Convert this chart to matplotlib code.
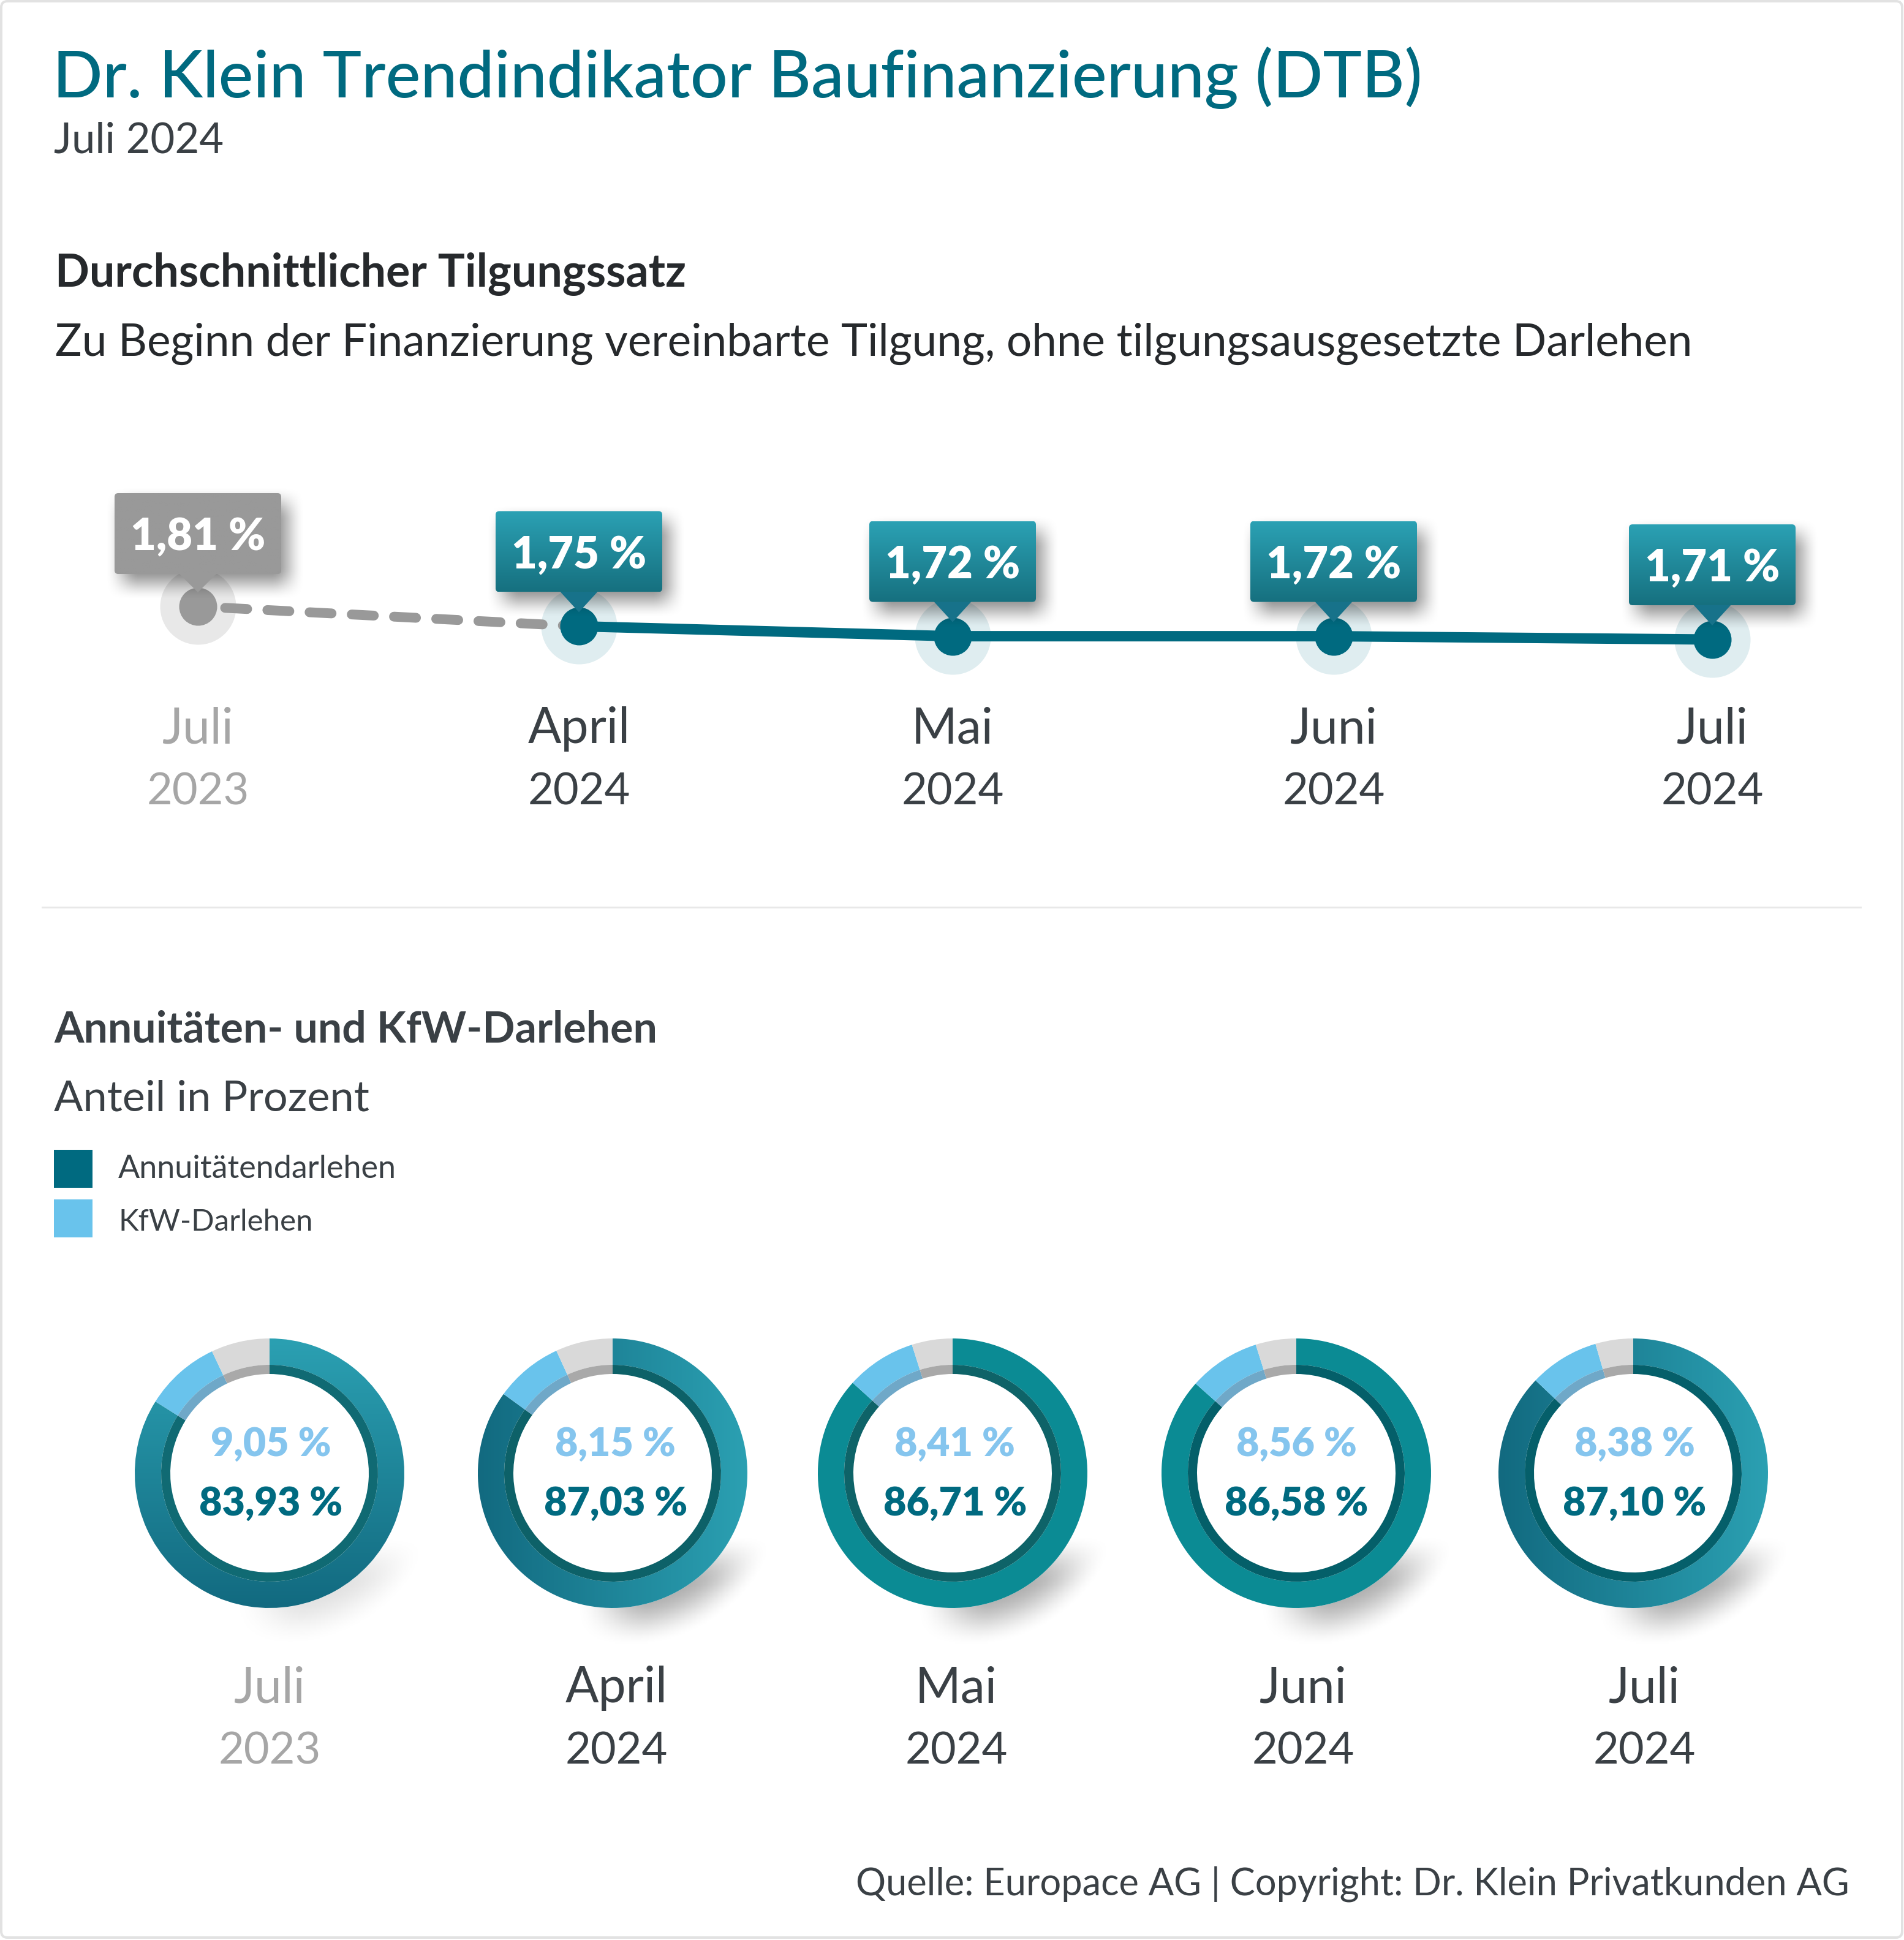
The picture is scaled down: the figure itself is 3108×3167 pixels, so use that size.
import numpy as np
import matplotlib
matplotlib.use('Agg')
import matplotlib.pyplot as plt
from matplotlib.patches import FancyBboxPatch, Polygon, Rectangle

# data
trend_months = ['Juli', 'April', 'Mai', 'Juni', 'Juli']
trend_years = ['2023', '2024', '2024', '2024', '2024']
tilgung = [1.81, 1.75, 1.72, 1.72, 1.71]
tilgung_labels = ['1,81 %', '1,75 %', '1,72 %', '1,72 %', '1,71 %']
annuitaet = [83.93, 85.0, 86.71, 86.58, 87.10]  # as drawn, the April ring is shorter than its label says
kfw = [9.05, 8.15, 8.41, 8.56, 8.38]
annuitaet_labels = ['83,93 %', '87,03 %', '86,71 %', '86,58 %', '87,10 %']
kfw_labels = ['9,05 %', '8,15 %', '8,41 %', '8,56 %', '8,38 %']
legend_labels = ['Annuitätendarlehen', 'KfW-Darlehen']

# layout, all in pixels of the final image
W, H = 3108, 3167
DPI = 100
FONT = 'Lato'
PT = 72 / DPI
line_x = [323, 945, 1555, 2177, 2795]
donut_x = [440, 1000, 1555, 2116, 2666]
donut_label_x = [440, 1006, 1561, 2127, 2684]
donut_text_x = [442, 1005, 1559, 2116, 2668]
donut_y = 2405
Y0, V0, PX_PER_PCT = 990, 1.81, 540  # 1,81 % sits at pixel row 990

# colours
TEAL = '#006a80'
LIGHT = '#2ba0b2'
DARK = '#126a80'
BLUE = '#69c3ec'
TEXT = '#3a4045'
GREY_TEXT = '#a6a6a6'

plt.rcParams['font.family'] = [FONT, 'DejaVu Sans']
plt.rcParams['lines.scale_dashes'] = False

fig = plt.figure(figsize=(W / DPI, H / DPI), dpi=DPI, facecolor='white')


def pixel_axes(zorder):
    a = fig.add_axes([0, 0, 1, 1], zorder=zorder)
    a.set_xlim(0, W)
    a.set_ylim(H, 0)
    a.axis('off')
    return a


def smooth(t):
    t = np.clip(t, 0, 1)
    return t * t * (3 - 2 * t)


def ramp(c1, c2, n=128):
    c1 = np.array(matplotlib.colors.to_rgb(c1))
    c2 = np.array(matplotlib.colors.to_rgb(c2))
    t = np.linspace(0, 1, n)[:, None]
    return c1 + (c2 - c1) * t


ax = pixel_axes(1)


def txt(x, y, s, size, color=TEXT, weight='normal', ha='left'):
    ax.text(x, y, s, fontsize=size, color=color, fontweight=weight, ha=ha, va='baseline')


# frame and divider
ax.add_patch(FancyBboxPatch((2, 2), W - 5, H - 6, boxstyle='round,pad=0,rounding_size=10',
                            fc='white', ec='#e2e2e2', lw=4 * PT))
ax.plot([69, 3037], [1481, 1481], color='#e8e8e8', lw=3 * PT)

# headings
txt(86, 159, 'Dr. Klein Trendindikator Baufinanzierung (DTB)', 77.2, TEAL, 'medium')
txt(88, 249, 'Juli 2024', 49.5)
txt(90, 468, 'Durchschnittlicher Tilgungssatz', 53, '#26292c', 'bold')
txt(90, 581, 'Zu Beginn der Finanzierung vereinbarte Tilgung, ohne tilgungsausgesetzte Darlehen', 52.5, '#26292c')
txt(88, 1702, 'Annuitäten- und KfW-Darlehen', 50.3, TEXT, 'bold')
txt(88, 1814, 'Anteil in Prozent', 50.5)

# legend
for top, col, label, base, size in zip([1877, 1958], [TEAL, BLUE], legend_labels, [1923, 2009], [37.5, 35.5]):
    ax.add_patch(Rectangle((88, top), 63, 62, fc=col, ec='none'))
    txt(193, base, label, size)

# month labels
for i in range(5):
    col = GREY_TEXT if i == 0 else TEXT
    txt(line_x[i], 1213, trend_months[i], 58, col, ha='center')
    txt(line_x[i], 1313, trend_years[i], 52, col, ha='center')
    txt(donut_label_x[i], 2779, trend_months[i], 58, col, ha='center')
    txt(donut_label_x[i], 2879, trend_years[i], 52, col, ha='center')

txt(3019, 3094, 'Quelle: Europace AG | Copyright: Dr. Klein Privatkunden AG', 44.2, TEXT, ha='right')

# line chart, on a value scale that shares the figure
ax_line = fig.add_axes([0, 0, 1, 1], zorder=2)
ax_line.set_xlim(0, W)
ax_line.set_ylim(V0 - (H - Y0) / PX_PER_PCT, V0 + Y0 / PX_PER_PCT)
ax_line.axis('off')

ax_line.scatter(line_x[:1], tilgung[:1], s=(124 * PT) ** 2, color='#e8e8e8', linewidths=0, zorder=1)
ax_line.scatter(line_x[1:], tilgung[1:], s=(124 * PT) ** 2, color='#dfedf0', linewidths=0, zorder=1)
ax_line.plot(line_x[:2], tilgung[:2], color='#999999', lw=16 * PT, dash_capstyle='round',
             linestyle=(17.6, (36 * PT, 33 * PT)), zorder=2)
ax_line.plot(line_x[1:], tilgung[1:], color=TEAL, lw=17 * PT, solid_capstyle='butt', zorder=2)
ax_line.scatter(line_x[:1], tilgung[:1], s=(62 * PT) ** 2, color='#999999', linewidths=0, zorder=3)
ax_line.scatter(line_x[1:], tilgung[1:], s=(62 * PT) ** 2, color=TEAL, linewidths=0, zorder=3)

# value boxes with tails and soft shadows
ax_box = pixel_axes(3)
BW, BH = 272, 132
for i, (x, val, lab) in enumerate(zip(line_x, tilgung, tilgung_labels)):
    y = Y0 + (V0 - val) * PX_PER_PCT
    l, t = x - BW / 2, y - 53 - BH
    if i > 0:
        t -= 3
    # shadow
    pad = 50
    sx, sy = 12, 16
    xs = np.arange(l + sx - pad, l + sx + BW + pad)
    ys = np.arange(t + sy - pad, t + sy + BH + pad)
    xx, yy = np.meshgrid(xs, ys)
    fx = smooth((xx - (l + sx) + 28) / 56) * smooth(((l + sx + BW) - xx + 28) / 56)
    fy = smooth((yy - (t + sy) + 28) / 56) * smooth(((t + sy + BH) - yy + 28) / 56)
    rgba = np.zeros(fx.shape + (4,))
    rgba[..., 3] = fx * fy * 0.45
    ax_box.imshow(rgba, extent=(xs[0], xs[-1], ys[-1], ys[0]), aspect='auto', zorder=1)
    # tail
    tail_col = '#999999' if i == 0 else '#17728a'
    ax_box.add_patch(Polygon([(x - 31, t + BH - 1), (x + 31, t + BH - 1), (x, y - 23)], fc=tail_col, ec='none', zorder=2))
    # box
    box = FancyBboxPatch((l, t), BW, BH, boxstyle='round,pad=0,rounding_size=6', fc='none', ec='none',
                         zorder=2, transform=ax_box.transData)
    ax_box.add_patch(box)
    cols = ramp('#999999', '#999999') if i == 0 else ramp('#2ba1b4', '#16707f')
    im = ax_box.imshow(cols[:, None, :], extent=(l, l + BW, t + BH, t), aspect='auto', zorder=3)
    im.set_clip_path(box)
    ax_box.text(x, t + 93, lab, fontsize=52, color='white', fontweight='heavy', ha='center', va='baseline', zorder=4)
ax_box.set_xlim(0, W)
ax_box.set_ylim(H, 0)

# donuts
R = 220
LIM = 1.5
ring_cols = ['#106a73', '#0d6168', '#0e6368', '#045f69', '#055f6a']
for i in range(5):
    size = 2 * LIM * R
    a = fig.add_axes([(donut_x[i] - size / 2) / W, 1 - (donut_y + size / 2) / H, size / W, size / H], zorder=4)
    vals = [annuitaet[i], kfw[i], 100 - annuitaet[i] - kfw[i]]
    wedges, _ = a.pie(vals, colors=['none', BLUE, '#d9d9d9'], startangle=90, counterclock=False, radius=1,
                      wedgeprops=dict(width=43 / R, linewidth=0), normalize=True)
    a.pie(vals, colors=[ring_cols[i], '#6fa8c8', '#a9a9a9'], startangle=90, counterclock=False, radius=177 / R,
          wedgeprops=dict(width=15 / R, linewidth=0), normalize=True)

    # soft shadow to the lower right
    g = np.linspace(-LIM, LIM, 330)
    xx, yy = np.meshgrid(g, g)
    down = -yy
    d = np.hypot(xx - 0.1, down - 0.1)
    alpha = smooth((1.2 - d) / 0.38) * smooth((down - 0.45) / 0.4) * smooth((xx + 0.3) / 0.6)
    rgba = np.zeros(alpha.shape + (4,))
    rgba[..., 3] = alpha * (0.12 if i == 0 else 0.32)
    a.imshow(rgba, extent=(-LIM, LIM, -LIM, LIM), origin='lower', aspect='equal', zorder=0)

    # white core so the shadow never shows through the middle
    a.add_patch(plt.Circle((0, 0), 1, fc='white', ec='none', zorder=0.5))

    # gradient on the annuity wedge
    if i == 0:
        grad = ramp(LIGHT, DARK)[:, None, :]
    elif i in (1, 4):
        grad = ramp(DARK, LIGHT)[None, :, :]
    else:
        grad = ramp('#0b8b94', '#0b8b94')[None, :, :]
    im = a.imshow(grad, extent=(-1, 1, -1, 1), aspect='equal', zorder=0.8)
    im.set_clip_path(wedges[0])
    a.set_xlim(-LIM, LIM)
    a.set_ylim(-LIM, LIM)
    a.axis('off')
    a.patch.set_alpha(0)

    a.text((donut_text_x[i] - donut_x[i]) / R, (donut_y - 2377) / R, kfw_labels[i], fontsize=46.5, color='#85c5ee',
           fontweight='heavy', ha='center', va='baseline')
    a.text((donut_text_x[i] - donut_x[i]) / R, (donut_y - 2474) / R, annuitaet_labels[i], fontsize=46.5, color=TEAL,
           fontweight='heavy', ha='center', va='baseline')

fig.savefig('out.png', dpi=DPI, facecolor='white')
